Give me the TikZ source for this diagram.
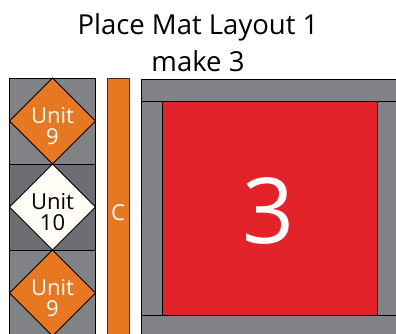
\documentclass[tikz,border=0pt]{standalone}
\usepackage{fontspec}
\setmainfont{Open Sans}
\usetikzlibrary{positioning}
\definecolor{matgray}{HTML}{808285}
\definecolor{matdark}{HTML}{6D6E71}
\definecolor{matorange}{HTML}{E87722}
\definecolor{matred}{HTML}{E3232A}
\definecolor{matcream}{HTML}{FFFDF5}
\definecolor{matbrown}{HTML}{4A2A12}

\begin{document}
\begin{tikzpicture}[x=1pt,y=-1pt,
    patch/.style={draw=black,line width=0.8pt},
    unitlabel/.style={align=center,inner sep=0pt,font=\fontsize{22}{21.5}\selectfont},
    titlelabel/.style={anchor=base,font=\fontsize{27.5}{30}\selectfont}]
  \useasboundingbox (0,0) rectangle (396,333);
  \clip (0,0) rectangle (396,333);
  % title
  \node[titlelabel] (title) at (198,34) {Place Mat Layout 1};
  \node[titlelabel] (make) at (198,71) {make 3};
  % column of unit blocks
  \foreach \i/\bg/\fg/\tc/\num in {0/matgray/matorange/white/9,1/matdark/matcream/black/10,2/matgray/matorange/white/9} {
    \draw[patch,fill=\bg] (9.5,78+86*\i) rectangle +(86,86);
    \draw[patch,fill=\fg] (52.5,78+86*\i) -- (95.5,121+86*\i) -- (52.5,164+86*\i) -- (9.5,121+86*\i) -- cycle;
    \node[unitlabel,text=\tc] (unit\i) at (52.5,126+86*\i) {Unit\\\num};
  }
  % strip C
  \draw[draw=matbrown,line width=0.8pt,fill=matorange] (107,78) rectangle (129,340);
  \node[unitlabel,text=white] (stripc) at (118,212.5) {C};
  % centre block with border
  \draw[patch,fill=matgray] (141,79) rectangle (400,338);
  \draw[patch] (141,101) -- (400,101);
  \draw[patch] (141,315) -- (400,315);
  \draw[patch,fill=matred] (162,101) rectangle (377,315);
  \node[inner sep=0pt,text=white,font=\fontsize{91}{100}\selectfont] (three) at (268.5,210.5) {3};
\end{tikzpicture}
\end{document}
